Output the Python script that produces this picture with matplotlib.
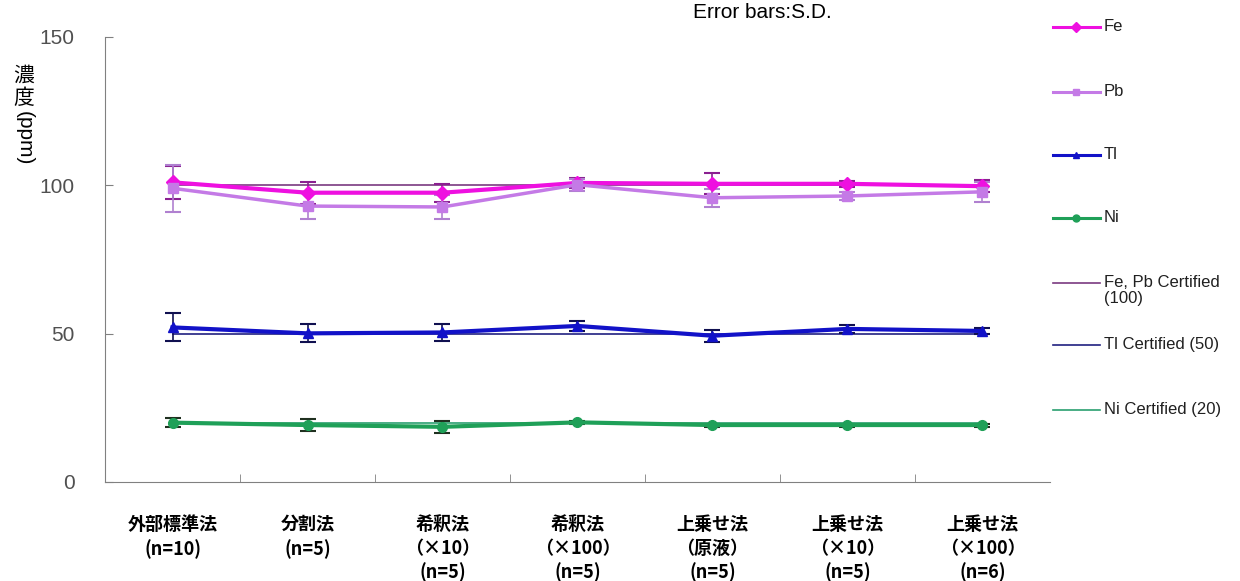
import numpy as np
import matplotlib.pyplot as plt
from matplotlib.lines import Line2D

plt.rcParams['font.family'] = ['Liberation Sans', 'Noto Sans CJK JP']

methods = ['外部標準法\n(n=10)', '分割法\n(n=5)', '希釈法\n（×10）\n(n=5)', '希釈法\n（×100）\n(n=5)',
           '上乗せ法\n（原液）\n(n=5)', '上乗せ法\n（×10）\n(n=5)', '上乗せ法\n（×100）\n(n=6)']

fe = [101.0, 97.5, 97.5, 100.8, 100.5, 100.5, 99.7]
fe_sd = [5.5, 3.7, 3.0, 1.8, 3.5, 1.0, 2.0]
pb = [99.0, 93.0, 92.7, 100.2, 95.8, 96.4, 97.8]
pb_sd = [8.0, 4.5, 4.0, 2.0, 3.0, 1.5, 3.3]
tl = [52.1, 50.1, 50.4, 52.6, 49.3, 51.6, 50.9]
tl_sd = [4.7, 3.0, 3.0, 1.7, 2.0, 1.3, 1.0]
ni = [20.0, 19.2, 18.6, 20.1, 19.2, 19.2, 19.2]
ni_sd = [1.5, 2.0, 2.0, 0.5, 0.5, 0.5, 0.5]

cert_labels = ['Fe, Pb Certified\n(100)', 'Tl Certified (50)', 'Ni Certified (20)']
cert_values = [100, 50, 20]

x = np.arange(len(methods))

fig = plt.figure(figsize=(12.4, 5.81), dpi=100)
ax = fig.add_axes([0.0847, 0.1704, 0.762, 0.766])

series = [
    ('Fe', fe, fe_sd, '#ee10e0', '#8a2090', 'D', 3.0),
    ('Pb', pb, pb_sd, '#c47ae6', '#b080d0', 's', 2.5),
    ('Tl', tl, tl_sd, '#1212c8', '#101050', '^', 3.0),
    ('Ni', ni, ni_sd, '#1fa058', '#203020', 'o', 3.0),
]
handles = []
for name, vals, sd, c, ec, m, lw in series:
    ax.errorbar(x, vals, yerr=sd, color=c, ecolor=ec, marker=m, ms=7, lw=lw,
                capsize=6, elinewidth=1.2, capthick=1.5, zorder=4)
    handles.append((name, c, m))

cert_colors = ['#7a3a80', '#202080', '#2aa070']
for val, c in zip(cert_values, cert_colors):
    ax.plot([x[0], x[-1]], [val, val], color=c, lw=1.2, zorder=3)

ax.set_xlim(-0.5, 6.5)
ax.set_ylim(0, 150)
ax.set_yticks([0, 50, 100, 150])
ax.tick_params(axis='y', direction='in', length=6, colors='#808080', labelcolor='#505050',
               labelsize=15, pad=22)
ax.set_xticks(x)
ax.set_xticklabels(methods, family=['Noto Sans CJK JP'], fontsize=13, fontweight='bold',
                   linespacing=1.3, va='top')
ax.set_xticks(x[:-1] + 0.5, minor=True)
ax.tick_params(axis='x', which='major', length=0, pad=24, labelcolor='black')
ax.tick_params(axis='x', which='minor', direction='in', length=6, colors='#808080')
for s in ['top', 'right']:
    ax.spines[s].set_visible(False)
for s in ['left', 'bottom']:
    ax.spines[s].set_color('#808080')

fig.text(24 / 1240, 1 - 87 / 581, '濃\n度', family=['Noto Sans CJK JP'], fontsize=15,
         ha='center', va='center', linespacing=1.0)
fig.text(24 / 1240, 1 - 138 / 581, '(ppm)', fontsize=15, rotation=270, ha='center', va='center')
fig.text(762 / 1240, 1 - 13 / 581, 'Error bars:S.D.', fontsize=15, ha='center', va='center')

# legend drawn at the right edge
W, H = 1240, 581
leg_y = [27, 92, 155, 218, 283, 345, 410]
entries = [(n, c, m) for n, c, m in handles] + [(l, c, None) for l, c in zip(cert_labels, cert_colors)]
for (lab, c, m), yp in zip(entries, leg_y):
    yf = 1 - yp / H
    lw = 2.2 if m else 1.2
    fig.add_artist(Line2D([1053 / W, 1100 / W], [yf, yf], transform=fig.transFigure,
                          color=c, lw=lw))
    if m:
        fig.add_artist(Line2D([1076 / W], [yf], transform=fig.transFigure, color=c,
                              marker=m, ms=5))
    fig.text(1104 / W, 1 - (yp - 8) / H, lab, fontsize=12, ha='left', va='top',
             color='#202020', linespacing=1.1)

fig.savefig('out.png', dpi=100)
